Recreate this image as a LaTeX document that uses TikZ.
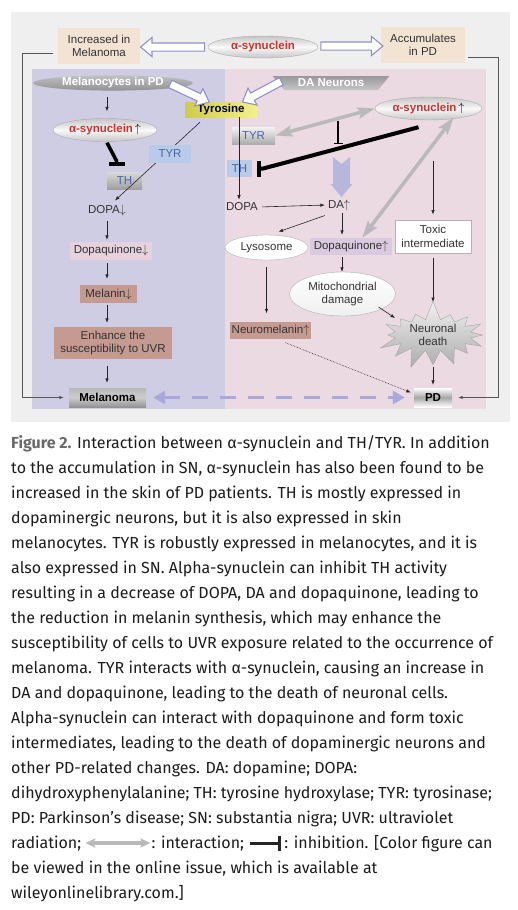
\documentclass[tikz,border=0pt]{standalone}
\usepackage{fontspec}
\setmainfont{Fira Sans}
\newfontfamily\dfont{Liberation Sans}
\usetikzlibrary{arrows.meta,shapes.geometric,shapes.arrows,shapes.symbols,calc}
\definecolor{panelgrey}{HTML}{EFEFEF}
\definecolor{lavbg}{HTML}{CFCDE3}
\definecolor{pinkbg}{HTML}{EBDAE1}
\definecolor{tanbox}{HTML}{F2E3D2}
\definecolor{rosy}{HTML}{C59A91}
\definecolor{dqleft}{HTML}{E6D2DC}
\definecolor{dqright}{HTML}{DACADF}
\definecolor{bluebox}{HTML}{B9CBE9}
\definecolor{bluetext}{HTML}{4865A8}
\definecolor{redtext}{HTML}{D0302C}
\definecolor{hollow}{HTML}{9090CC}
\definecolor{dashlav}{HTML}{A8A8DA}
\definecolor{bigarrow}{HTML}{B7B7DD}
\definecolor{darktext}{HTML}{333333}
\definecolor{capgrey}{HTML}{6A6A6A}
\definecolor{capblack}{HTML}{1C1C1C}
\definecolor{linegrey}{HTML}{555555}
\definecolor{tyrl}{HTML}{CFCC4A}
\definecolor{tyrr}{HTML}{F3F08E}
\begin{document}
\begin{tikzpicture}[x=1pt,y=-1pt,
  font=\dfont\fontsize{11.5}{13.5}\selectfont,
  every node/.style={text=darktext},
  arr/.style={draw=black!85, line width=0.6pt, -{Latex[length=4.5pt,width=3.5pt]}},
  outerline/.style={draw=linegrey, line width=0.7pt, -{Latex[length=4.5pt,width=3.5pt]}},
  box/.style={rectangle, inner sep=0pt, align=center},
  boldtxt/.style={font=\dfont\bfseries\fontsize{11.5}{13.5}\selectfont},
  syn/.style={ellipse, draw=gray!65, top color=gray!45, bottom color=gray!45, middle color=gray!5, inner sep=0pt, boldtxt},
  hollowarr/.style={single arrow, draw=hollow, line width=1.1pt, fill=white, minimum width=18pt, single arrow head extend=5.5pt, single arrow tip angle=80, inner xsep=0pt, inner ysep=3.5pt},
  interarr/.style={line width=3.5pt, draw=gray!55, {Stealth[length=17pt,width=11pt,inset=3pt]}-{Stealth[length=17pt,width=11pt,inset=3pt]}},
  inhib/.style={line width=#1, draw=black, line join=round, -{Bar[width=16pt]}},
  captext/.style={font=\rmfamily\fontsize{16}{19}\selectfont, text=capblack, inner sep=0pt, anchor=base west},
]
\useasboundingbox (0,0) rectangle (518,910);
\fill[white] (0,0) rectangle (518,910);
\fill[panelgrey] (11,12) rectangle (510,422);
\fill[lavbg] (32,69) rectangle (225,409);
\fill[pinkbg] (225,69) rectangle (486,409);

% top row
\node[box, fill=tanbox, minimum width=82pt, minimum height=36pt] (incr) at (99,46) {Increased in\\Melanoma};
\node[box, fill=tanbox, minimum width=84pt, minimum height=36pt] (accum) at (423,45) {Accumulates\\in PD};
\node[syn, minimum width=110pt, minimum height=22pt] (asynT) at (263,47) {\textcolor{redtext}{α-synuclein}};
\node[hollowarr, minimum height=64pt, rotate=180] (ha1) at (175,47) {};
\node[hollowarr, minimum height=62pt] (ha2) at (349.5,46) {};

% banners and tyrosine
\node[ellipse, minimum width=160pt, minimum height=14pt, inner sep=0pt, top color=gray!50, bottom color=gray!85, text=white, boldtxt] (melpd) at (113,83) {Melanocytes in PD};
\node[trapezium, shape border rotate=180, trapezium stretches=true, trapezium left angle=45, trapezium right angle=45, minimum width=117pt, minimum height=14pt, inner sep=0pt, top color=gray!80, bottom color=gray!45, text=white, boldtxt] (daneur) at (331,83) {DA Neurons};
\node[box, minimum width=72pt, minimum height=15pt, left color=tyrl, right color=tyrr, text=black, boldtxt] (tyros) at (221,109.5) {Tyrosine};
\node[hollowarr, minimum height=43pt, rotate=-25] (ha3) at (187.5,92) {};
\node[hollowarr, minimum height=44pt, rotate=-152] (ha4) at (264,90.5) {};

% left column
\node[syn, minimum width=104pt, minimum height=23pt] (asynL) at (105,130) {\textcolor{redtext}{α-synuclein}\,{\color{black}$\uparrow$}};
\node[box, minimum width=35pt, minimum height=17pt, top color=gray!30, bottom color=gray!75, text=bluetext] (thL) at (124.5,180.5) {TH};
\node[inner sep=1pt] (dopaL) at (107,210) {DOPA$\downarrow$};
\draw[arr] ($(tyros.south)+(-21,5)$) -- ($(dopaL.north)+(8,-3)$);
\node[box, minimum width=42pt, minimum height=18pt, fill=bluebox, text=bluetext] (tyrL) at (170,154) {TYR};
\node[box, minimum width=82pt, minimum height=18pt, fill=dqleft] (dqL) at (111,251) {Dopaquinone$\downarrow$};
\node[box, minimum width=57pt, minimum height=18pt, fill=rosy] (melL) at (108.5,294) {Melanin$\downarrow$};
\node[box, minimum width=118pt, minimum height=32pt, fill=rosy] (enh) at (113,343) {Enhance the\\susceptibility to UVR};
\node[box, minimum width=77pt, minimum height=19pt, top color=gray!55, bottom color=gray!85, middle color=gray!40, text=black, boldtxt] (melanoma) at (107.5,397.5) {Melanoma};

\draw[arr] ($(melpd.south -| 107,0)+(0,6)$) -- ($(asynL.north -| 107,0)+(0,-7)$);
\draw[arr] ($(dopaL.south -| 107,0)+(0,4)$) -- ($(dqL.north -| 107,0)+(0,-2)$);
\draw[arr] ($(dqL.south -| 107,0)+(0,3)$) -- ($(melL.north -| 107,0)+(0,-6)$);
\draw[arr] ($(melL.south -| 107,0)+(0,2)$) -- ($(enh.north -| 107,0)+(0,-4)$);
\draw[arr] ($(enh.south -| 107,0)+(0,7)$) -- ($(melanoma.north -| 107,0)+(0,-5)$);
\draw[inhib=3.5pt] ($(asynL.south)+(2,1)$) -- ($(thL.north)+(-8,-11)$) -- ($(thL.north)+(-8,-6)$);

% right column
\node[syn, minimum width=107pt, minimum height=23pt] (asynR) at (428.5,108.5) {\textcolor{redtext}{α-synuclein}\,{\color{black}$\uparrow$}};
\node[box, minimum width=43pt, minimum height=17pt, top color=gray!10, bottom color=gray!65, text=bluetext] (tyrR) at (253.5,135.5) {TYR};
\node[box, minimum width=25pt, minimum height=17pt, fill=bluebox, text=bluetext] (thR) at (239.5,168.5) {TH};
\node[inner sep=1pt] (dopaR) at (242,207) {DOPA};
\node[inner sep=1pt] (daR) at (339,205) {DA$\uparrow$};
\node[ellipse, draw=gray!60, fill=white, minimum width=83pt, minimum height=25pt, inner sep=0pt] (lyso) at (266.5,247.5) {Lysosome};
\node[box, minimum width=82pt, minimum height=17pt, fill=dqright] (dqR) at (351,246.5) {Dopaquinone$\uparrow$};
\node[ellipse, draw=gray!60, top color=white, bottom color=gray!12, minimum width=106pt, minimum height=44pt, inner sep=0pt, align=center] (mito) at (342.5,294) {Mitochondrial\\damage};
\node[box, minimum width=81pt, minimum height=17pt, fill=rosy] (neuromel) at (270.5,330) {Neuromelanin$\uparrow$};
\node[box, minimum width=76pt, minimum height=33pt, fill=white, draw=gray!60, line width=0.8pt] (toxic) at (433,236.5) {Toxic\\intermediate};
\node[starburst, starburst points=16, starburst point height=20pt, random starburst=7, minimum width=117pt, minimum height=65pt, inner sep=0pt, top color=gray!12, bottom color=gray!65, draw=gray!70, align=center] (death) at (433,335) {Neuronal\\death};
\node[box, minimum width=38pt, minimum height=19pt, top color=white, bottom color=white, middle color=gray!70, text=black, boldtxt] (pd) at (433,397.5) {PD};

% big lavender arrow (DA increase)
\fill[bigarrow] (333,157) -- (341.5,164) -- (350,157) -- (350,184) -- (352.5,184) -- (341.5,197) -- (330.5,184) -- (333,184) -- cycle;

\draw[arr] ($(tyros.south)+(18,0)$) -- ($(dopaR.north)+(-3,-2)$);
\draw[arr, shorten <=3pt, shorten >=2pt] (dopaR.east) -- (daR.west);
\draw[arr] ($(daR.south west)+(-2,4)$) -- ($(lyso.north)+(12,-3)$);
\draw[arr] ($(daR.center)+(3,8)$) -- ($(dqR.north)+(-9,-3)$);
\draw[arr] ($(dqR.south)+(-9,2)$) -- ($(mito.north)+(-0.5,0)$);
\draw[arr] ($(lyso.south)+(0,7)$) -- ($(lyso.south |- neuromel.north)+(0,-8)$);
\draw[arr] ($(mito.center)+(36,13)$) -- ($(death.center)+(-38,-17)$);
\draw[arr] ($(asynR.center)+(4.5,52)$) -- ($(toxic.north)+(0,-5)$);
\draw[arr] ($(toxic.south)+(0,5)$) -- ($(death.center)+(0,-33)$);
\draw[arr] ($(death.center)+(0,32)$) -- ($(pd.north)+(0,-3)$);
\draw[arr, densely dotted] ($(neuromel.south)+(15,4)$) -- ($(pd.west)+(-3,-5)$);

\coordinate (ts) at (338,121);
\coordinate (te) at (338,144);
\draw[line width=1.2pt, -{Bar[width=9pt]}] (ts) -- (te);
\draw[inhib=4pt] ($(asynR.south)+(-10,7)$) -- ($(thR.east)+(11,0)$) -- ($(thR.east)+(5,0)$);
\draw[interarr] (asynR.west) -- (tyrR.east);
\draw[interarr] ($(asynR.center)+(25,9)$) -- ($(dqR.north east)+(-30,0)$);

\draw[dashlav, line width=3pt, dash pattern=on 16pt off 12pt, {Triangle[length=12pt,width=13pt]}-{Triangle[length=12pt,width=13pt]}] ($(melanoma.east)+(7,0)$) -- ($(pd.west)+(-9,0)$);

% outer feedback lines
\draw[outerline] ($(incr.west)+(-5,7)$) -- ++(-30,0) |- ($(melanoma.west)+(-5,0)$);
\draw[outerline] ($(accum.east)+(3,12)$) -- ++(30,0) |- ($(pd.east)+(6,0)$);

% caption
\node[captext] (c1) at (11,448) {\textbf{\color{capgrey}Figure 2.} Interaction between α-synuclein and TH/TYR. In addition};
\node[captext] (c2) at (11,473) {to the accumulation in SN, α-synuclein has also been found to be};
\node[captext] (c3) at (11,498) {increased in the skin of PD patients. TH is mostly expressed in};
\node[captext] (c4) at (11,523) {dopaminergic neurons, but it is also expressed in skin};
\node[captext] (c5) at (11,548) {melanocytes. TYR is robustly expressed in melanocytes, and it is};
\node[captext] (c6) at (11,573) {also expressed in SN. Alpha-synuclein can inhibit TH activity};
\node[captext] (c7) at (11,598) {resulting in a decrease of DOPA, DA and dopaquinone, leading to};
\node[captext] (c8) at (11,623) {the reduction in melanin synthesis, which may enhance the};
\node[captext] (c9) at (11,648) {susceptibility of cells to UVR exposure related to the occurrence of};
\node[captext] (c10) at (11,673) {melanoma. TYR interacts with α-synuclein, causing an increase in};
\node[captext] (c11) at (11,698) {DA and dopaquinone, leading to the death of neuronal cells.};
\node[captext] (c12) at (11,723) {Alpha-synuclein can interact with dopaquinone and form toxic};
\node[captext] (c13) at (11,748) {intermediates, leading to the death of dopaminergic neurons and};
\node[captext] (c14) at (11,773) {other PD-related changes. DA: dopamine; DOPA:};
\node[captext] (c15) at (11,798) {dihydroxyphenylalanine; TH: tyrosine hydroxylase; TYR: tyrosinase;};
\node[captext] (c16) at (11,823) {PD: Parkinson’s disease; SN: substantia nigra; UVR: ultraviolet};
\node[captext] (c17a) at (11,848) {radiation;};
\node[captext] (c17b) at ($(c17a.base east)+(70,0)$) {: interaction;};
\node[captext] (c17c) at ($(c17b.base east)+(40,0)$) {: inhibition. [Color figure can};
\node[captext] (c18) at (11,873) {be viewed in the online issue, which is available at};
\node[captext] (c19) at (11,898) {wileyonlinelibrary.com.]};
\draw[line width=4.5pt, draw=gray!55, {Stealth[length=10pt,width=9pt,inset=2pt]}-{Stealth[length=10pt,width=9pt,inset=2pt]}] ($(c17a.base east)+(4,-5)$) -- ($(c17b.base west)+(-1,-5)$);
\draw[line width=3pt, draw=black!85, -{Bar[width=15pt]}] ($(c17b.base east)+(6,-5)$) -- ($(c17c.base west)+(-3,-5)$);
\end{tikzpicture}
\end{document}
